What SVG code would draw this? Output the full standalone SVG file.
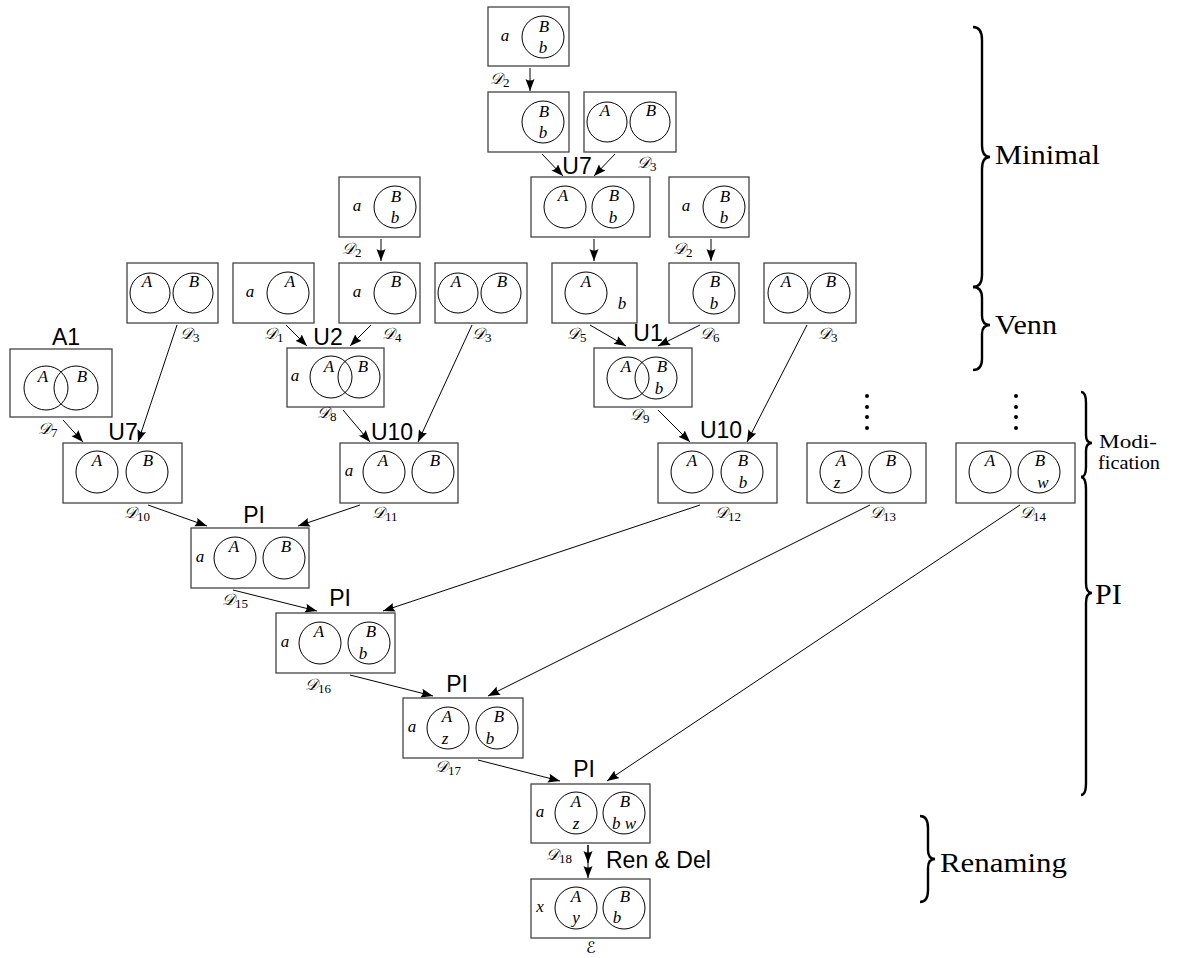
<svg xmlns="http://www.w3.org/2000/svg" width="1177" height="958" viewBox="0 0 1177 958">
<style>
.bx{fill:#fff;stroke:#444;stroke-width:1.3}
.c{fill:none;stroke:#000;stroke-width:1}
.t{font-family:"Liberation Serif",serif;font-style:italic;font-size:17px;text-anchor:middle;fill:#000}
.d{font-family:"DejaVu Serif","DejaVu Sans",serif;font-style:italic;font-size:16px;fill:#000}
.s{font-family:"Liberation Serif",serif;font-style:normal;font-size:13px}
.op{font-family:"Liberation Sans",sans-serif;font-size:23px;text-anchor:middle;fill:#000}
.br{fill:none;stroke:#000;stroke-width:2.4}
.bl{font-family:"Liberation Serif",serif;font-size:27px;fill:#000}
.e{stroke:#000;stroke-width:1;fill:none;marker-end:url(#ah)}
.dot{fill:#000}
</style>
<defs>
<marker id="ah" markerUnits="userSpaceOnUse" markerWidth="13" markerHeight="10" refX="12" refY="4.5" orient="auto">
<path d="M0,0 L12,4.5 L0,9 Q3,4.5 0,0 Z" fill="#000"/>
</marker>
</defs>
<rect width="1177" height="958" fill="#fff"/>

<g id="connectors">
<line class="e" x1="530" y1="68" x2="530" y2="91"/>
<line class="e" x1="542" y1="154" x2="563" y2="176"/>
<line class="e" x1="615" y1="154" x2="594" y2="176"/>
<line class="e" x1="594" y1="239" x2="594" y2="261"/>
<line class="e" x1="711" y1="239" x2="711" y2="261"/>
<line class="e" x1="381" y1="239" x2="381" y2="261"/>
<line class="e" x1="286" y1="325" x2="307" y2="346"/>
<line class="e" x1="371" y1="325" x2="350" y2="346"/>
<line class="e" x1="590" y1="325" x2="626" y2="346"/>
<line class="e" x1="700" y1="325" x2="658" y2="346"/>
<line class="e" x1="63" y1="420" x2="83" y2="442"/>
<line class="e" x1="177" y1="325" x2="138" y2="442"/>
<line class="e" x1="343" y1="410" x2="370" y2="442"/>
<line class="e" x1="472" y1="325" x2="418" y2="442"/>
<line class="e" x1="658" y1="410" x2="690" y2="442"/>
<line class="e" x1="807" y1="325" x2="747" y2="442"/>
<line class="e" x1="148" y1="505" x2="207" y2="526"/>
<line class="e" x1="360" y1="505" x2="298" y2="526"/>
<line class="e" x1="233" y1="590" x2="317" y2="611"/>
<line class="e" x1="700" y1="505" x2="383" y2="611"/>
<line class="e" x1="350" y1="675" x2="433" y2="696"/>
<line class="e" x1="870" y1="505" x2="488" y2="696"/>
<line class="e" x1="478" y1="760" x2="560" y2="781"/>
<line class="e" x1="1020" y1="505" x2="607" y2="781"/>
<line class="e" x1="588" y1="845" x2="588" y2="863"/>
<line class="e" x1="588" y1="845" x2="588" y2="878"/>
</g>

<g id="T1">
<rect class="bx" x="488" y="7" width="81" height="59"/>
<text class="t" x="505" y="41">a</text>
<circle class="c" cx="543" cy="37" r="21"/>
<text class="t" x="544" y="32">B</text><text class="t" x="543" y="53">b</text>
<text class="d" x="490" y="84">𝒟<tspan class="s" dy="3">2</tspan></text>
</g>
<g id="T2">
<rect class="bx" x="488" y="92" width="81" height="60"/>
<circle class="c" cx="543" cy="122" r="21"/>
<text class="t" x="544" y="117">B</text><text class="t" x="543" y="138">b</text>
</g>
<g id="T3">
<rect class="bx" x="584" y="92" width="92" height="60"/>
<circle class="c" cx="607" cy="122" r="20"/><circle class="c" cx="650" cy="122" r="20"/>
<text class="t" x="605" y="116">A</text><text class="t" x="651" y="116">B</text>
<text class="d" x="637" y="168">𝒟<tspan class="s" dy="3">3</tspan></text>
</g>
<g id="N1">
<text class="op" x="577" y="174">U7</text>
<rect class="bx" x="531" y="177" width="119" height="60"/>
<circle class="c" cx="565" cy="207" r="21"/><circle class="c" cx="613" cy="207" r="21"/>
<text class="t" x="563" y="201">A</text><text class="t" x="614" y="201">B</text><text class="t" x="613" y="223">b</text>
</g>
<g id="R1">
<rect class="bx" x="669" y="177" width="80" height="60"/>
<text class="t" x="686" y="211">a</text>
<circle class="c" cx="724" cy="207" r="21"/>
<text class="t" x="725" y="202">B</text><text class="t" x="724" y="223">b</text>
<text class="d" x="673" y="254">𝒟<tspan class="s" dy="3">2</tspan></text>
</g>
<g id="L1">
<rect class="bx" x="339" y="177" width="81" height="60"/>
<text class="t" x="357" y="211">a</text>
<circle class="c" cx="395" cy="207" r="21"/>
<text class="t" x="396" y="202">B</text><text class="t" x="395" y="223">b</text>
<text class="d" x="342" y="254">𝒟<tspan class="s" dy="3">2</tspan></text>
</g>

<g id="D3L">
<rect class="bx" x="127" y="263" width="91" height="60"/>
<circle class="c" cx="150" cy="293" r="20"/><circle class="c" cx="193" cy="293" r="20"/>
<text class="t" x="147" y="287">A</text><text class="t" x="194" y="287">B</text>
<text class="d" x="180" y="339">𝒟<tspan class="s" dy="3">3</tspan></text>
</g>
<g id="D1">
<rect class="bx" x="233" y="263" width="81" height="60"/>
<text class="t" x="250" y="297">a</text>
<circle class="c" cx="288" cy="293" r="21"/>
<text class="t" x="290" y="287">A</text>
<text class="d" x="264" y="339">𝒟<tspan class="s" dy="3">1</tspan></text>
</g>
<g id="D4">
<rect class="bx" x="339" y="263" width="81" height="60"/>
<text class="t" x="357" y="297">a</text>
<circle class="c" cx="395" cy="293" r="21"/>
<text class="t" x="396" y="287">B</text>
<text class="d" x="382" y="339">𝒟<tspan class="s" dy="3">4</tspan></text>
</g>
<g id="D3M">
<rect class="bx" x="435" y="263" width="92" height="60"/>
<circle class="c" cx="458" cy="293" r="20"/><circle class="c" cx="501" cy="293" r="20"/>
<text class="t" x="456" y="287">A</text><text class="t" x="502" y="287">B</text>
<text class="d" x="472" y="339">𝒟<tspan class="s" dy="3">3</tspan></text>
</g>
<g id="D5">
<rect class="bx" x="552" y="263" width="85" height="60"/>
<circle class="c" cx="586" cy="293" r="21"/>
<text class="t" x="586" y="287">A</text><text class="t" x="622" y="309">b</text>
<text class="d" x="567" y="339">𝒟<tspan class="s" dy="3">5</tspan></text>
</g>
<g id="D6">
<rect class="bx" x="669" y="263" width="70" height="60"/>
<circle class="c" cx="714" cy="293" r="21"/>
<text class="t" x="715" y="287">B</text><text class="t" x="714" y="309">b</text>
<text class="d" x="700" y="339">𝒟<tspan class="s" dy="3">6</tspan></text>
</g>
<g id="D3R">
<rect class="bx" x="764" y="263" width="92" height="60"/>
<circle class="c" cx="788" cy="293" r="20"/><circle class="c" cx="830" cy="293" r="20"/>
<text class="t" x="786" y="287">A</text><text class="t" x="831" y="287">B</text>
<text class="d" x="818" y="339">𝒟<tspan class="s" dy="3">3</tspan></text>
</g>

<g id="A1">
<text class="op" x="66" y="345">A1</text>
<rect class="bx" x="10" y="349" width="102" height="68"/>
<circle class="c" cx="46" cy="388" r="22"/><circle class="c" cx="76" cy="388" r="22"/>
<text class="t" x="43" y="382">A</text><text class="t" x="82" y="382">B</text>
<text class="d" x="38" y="434">𝒟<tspan class="s" dy="3">7</tspan></text>
</g>
<g id="D8">
<text class="op" x="328" y="345">U2</text>
<rect class="bx" x="287" y="348" width="97" height="59"/>
<text class="t" x="295" y="381">a</text>
<circle class="c" cx="331" cy="377" r="21"/><circle class="c" cx="359" cy="377" r="21"/>
<text class="t" x="329" y="372">A</text><text class="t" x="363" y="372">B</text>
<text class="d" x="317" y="418">𝒟<tspan class="s" dy="3">8</tspan></text>
</g>
<g id="D9">
<text class="op" x="648" y="341">U1</text>
<rect class="bx" x="594" y="348" width="98" height="59"/>
<circle class="c" cx="628" cy="378" r="21"/><circle class="c" cx="656" cy="378" r="21"/>
<text class="t" x="626" y="372">A</text><text class="t" x="662" y="372">B</text><text class="t" x="659" y="394">b</text>
<text class="d" x="630" y="420">𝒟<tspan class="s" dy="3">9</tspan></text>
</g>

<g id="D10">
<text class="op" x="123" y="440">U7</text>
<rect class="bx" x="63" y="443" width="119" height="60"/>
<circle class="c" cx="97" cy="472" r="21"/><circle class="c" cx="147" cy="472" r="21"/>
<text class="t" x="97" y="466">A</text><text class="t" x="148" y="466">B</text>
<text class="d" x="124" y="518">𝒟<tspan class="s" dy="3">10</tspan></text>
</g>
<g id="D11">
<text class="op" x="392" y="440">U10</text>
<rect class="bx" x="340" y="443" width="118" height="60"/>
<text class="t" x="349" y="476">a</text>
<circle class="c" cx="384" cy="472" r="21"/><circle class="c" cx="433" cy="472" r="21"/>
<text class="t" x="383" y="466">A</text><text class="t" x="435" y="466">B</text>
<text class="d" x="372" y="518">𝒟<tspan class="s" dy="3">11</tspan></text>
</g>
<g id="D12">
<text class="op" x="721" y="438">U10</text>
<rect class="bx" x="658" y="443" width="119" height="60"/>
<circle class="c" cx="692" cy="472" r="21"/><circle class="c" cx="742" cy="472" r="21"/>
<text class="t" x="692" y="466">A</text><text class="t" x="743" y="466">B</text><text class="t" x="743" y="488">b</text>
<text class="d" x="715" y="518">𝒟<tspan class="s" dy="3">12</tspan></text>
</g>
<g id="D13">
<circle class="dot" cx="867" cy="396" r="2"/><circle class="dot" cx="867" cy="407" r="2"/><circle class="dot" cx="867" cy="417" r="2"/><circle class="dot" cx="867" cy="428" r="2"/>
<rect class="bx" x="807" y="443" width="119" height="60"/>
<circle class="c" cx="841" cy="472" r="21"/><circle class="c" cx="890" cy="472" r="21"/>
<text class="t" x="841" y="466">A</text><text class="t" x="837" y="488">z</text><text class="t" x="891" y="466">B</text>
<text class="d" x="870" y="518">𝒟<tspan class="s" dy="3">13</tspan></text>
</g>
<g id="D14">
<circle class="dot" cx="1016" cy="396" r="2"/><circle class="dot" cx="1016" cy="407" r="2"/><circle class="dot" cx="1016" cy="417" r="2"/><circle class="dot" cx="1016" cy="428" r="2"/>
<rect class="bx" x="956" y="443" width="119" height="60"/>
<circle class="c" cx="990" cy="472" r="21"/><circle class="c" cx="1039" cy="472" r="21"/>
<text class="t" x="990" y="466">A</text><text class="t" x="1040" y="466">B</text><text class="t" x="1043" y="488">w</text>
<text class="d" x="1020" y="518">𝒟<tspan class="s" dy="3">14</tspan></text>
</g>

<g id="D15">
<text class="op" x="254" y="523">PI</text>
<rect class="bx" x="191" y="528" width="118" height="60"/>
<text class="t" x="200" y="562">a</text>
<circle class="c" cx="235" cy="558" r="21"/><circle class="c" cx="284" cy="558" r="21"/>
<text class="t" x="234" y="552">A</text><text class="t" x="286" y="552">B</text>
<text class="d" x="222" y="605">𝒟<tspan class="s" dy="3">15</tspan></text>
</g>
<g id="D16">
<text class="op" x="340" y="606">PI</text>
<rect class="bx" x="276" y="613" width="119" height="60"/>
<text class="t" x="285" y="647">a</text>
<circle class="c" cx="320" cy="643" r="21"/><circle class="c" cx="369" cy="643" r="21"/>
<text class="t" x="319" y="637">A</text><text class="t" x="371" y="637">B</text><text class="t" x="363" y="659">b</text>
<text class="d" x="305" y="690">𝒟<tspan class="s" dy="3">16</tspan></text>
</g>
<g id="D17">
<text class="op" x="457" y="692">PI</text>
<rect class="bx" x="403" y="698" width="120" height="60"/>
<text class="t" x="412" y="732">a</text>
<circle class="c" cx="448" cy="728" r="21"/><circle class="c" cx="497" cy="728" r="21"/>
<text class="t" x="447" y="722">A</text><text class="t" x="445" y="744">z</text><text class="t" x="499" y="722">B</text><text class="t" x="490" y="744">b</text>
<text class="d" x="435" y="772">𝒟<tspan class="s" dy="3">17</tspan></text>
</g>
<g id="D18">
<text class="op" x="584" y="777">PI</text>
<rect class="bx" x="531" y="784" width="119" height="59"/>
<text class="t" x="540" y="817">a</text>
<circle class="c" cx="576" cy="813" r="21"/><circle class="c" cx="624" cy="813" r="21"/>
<text class="t" x="576" y="807">A</text><text class="t" x="576" y="829">z</text><text class="t" x="625" y="807">B</text><text class="t" x="624" y="829">b w</text>
<text class="d" x="546" y="860">𝒟<tspan class="s" dy="3">18</tspan></text>
<text class="op" x="606" y="868" style="text-anchor:start">Ren &amp; Del</text>
</g>
<g id="E">
<rect class="bx" x="531" y="879" width="119" height="59"/>
<text class="t" x="540" y="912">x</text>
<circle class="c" cx="576" cy="908" r="21"/><circle class="c" cx="624" cy="908" r="21"/>
<text class="t" x="576" y="902">A</text><text class="t" x="576" y="923">y</text><text class="t" x="625" y="902">B</text><text class="t" x="617" y="923">b</text>
<text class="d" x="586" y="953">ℰ</text>
</g>

<g id="braces">
<path class="br" d="M973,27 Q982,27 982,40 L982,145 Q982,157 990,157 Q982,157 982,169 L982,275 Q982,287 973,287"/>
<text class="bl" x="995" y="164" textLength="105" lengthAdjust="spacingAndGlyphs">Minimal</text>
<path class="br" d="M973,287 Q982,287 982,298 L982,316 Q982,325 990,325 Q982,325 982,334 L982,359 Q982,370 973,370"/>
<text class="bl" x="995" y="334" textLength="62" lengthAdjust="spacingAndGlyphs">Venn</text>
<path class="br" d="M1081,392 Q1086,392 1086,403 L1086,435 Q1086,443 1092,443 Q1086,443 1086,451 L1086,467 Q1086,477 1081,477"/>
<text class="bl" x="1099" y="448" style="font-size:19px" textLength="58" lengthAdjust="spacingAndGlyphs">Modi-</text>
<text class="bl" x="1098" y="469" style="font-size:19px" textLength="62" lengthAdjust="spacingAndGlyphs">fication</text>
<path class="br" d="M1081,477 Q1086,477 1086,490 L1086,583 Q1086,593 1092,593 Q1086,593 1086,603 L1086,783 Q1086,795 1081,795"/>
<text class="bl" x="1095" y="604" style="font-size:30px">PI</text>
<path class="br" d="M920,816 Q928,816 928,828 L928,850 Q928,859 935,859 Q928,859 928,868 L928,890 Q928,902 920,902"/>
<text class="bl" x="940" y="872" textLength="127" lengthAdjust="spacingAndGlyphs">Renaming</text>
</g>
</svg>
